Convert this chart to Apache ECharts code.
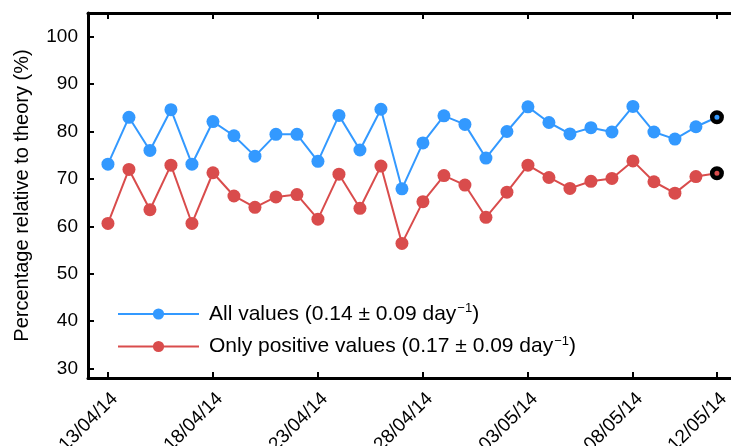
<!DOCTYPE html>
<html>
<head>
<meta charset="utf-8">
<script src="https://cdn.jsdelivr.net/npm/echarts@6/dist/echarts.min.js"></script>
<style>
  html, body { margin: 0; padding: 0; background: #fff; }
  #chart { width: 731px; height: 446px; }
</style>
</head>
<body>
<div id="chart"></div>
<script>
// dates, one per day, 13/04/14 .. 12/05/14
const dateLabels = {0: "13/04/14", 5: "18/04/14", 10: "23/04/14", 15: "28/04/14", 20: "03/05/14", 25: "08/05/14", 29: "12/05/14"};
const dateTicks = [0, 5, 10, 15, 20, 25, 29];
const yTicks = [30, 40, 50, 60, 70, 80, 90, 100];

const allValues = [73.1, 83.0, 76.0, 84.6, 73.1, 82.1, 79.1, 74.8, 79.4, 79.4,
  73.7, 83.4, 76.1, 84.7, 67.9, 77.6, 83.3, 81.5, 74.4, 80.0,
  85.2, 81.9, 79.5, 80.8, 79.9, 85.3, 79.9, 78.4, 81.0, 83.0];
const positiveValues = [60.6, 72.0, 63.5, 72.9, 60.6, 71.3, 66.4, 64.0, 66.2, 66.7,
  61.5, 71.0, 63.8, 72.7, 56.4, 65.2, 70.7, 68.7, 61.9, 67.2,
  72.9, 70.3, 68.0, 69.5, 70.1, 73.8, 69.4, 67.0, 70.5, 71.2];

const blue = "#3399ff";
const red = "#d94c4c";

function toPoints(values) {
  return values.map(function (v, i) {
    if (i === values.length - 1) {
      return { value: [i, v], symbolSize: 9.5, itemStyle: { borderColor: "#000", borderWidth: 4.5 } };
    }
    return [i, v];
  });
}

const chart = echarts.init(document.getElementById("chart"));
const font = "Liberation Sans";

const option = {
  animation: false,
  backgroundColor: "#fff",
  textStyle: { fontFamily: font, color: "#000" },
  grid: { left: 88, top: 13, right: 0, bottom: 68, containLabel: false, outerBoundsMode: "none" },
  legend: {
    orient: "vertical",
    left: 112,
    top: 297,
    itemWidth: 81,
    itemHeight: 14,
    itemGap: 10,
    formatter: function (name) {
      return name === "all"
        ? "All values (0.14 ± 0.09 day{sup|−1})"
        : "Only positive values (0.17 ± 0.09 day{sup|−1})";
    },
    textStyle: {
      fontFamily: font,
      fontSize: 21,
      color: "#000",
      padding: [0, 0, 0, 5],
      rich: {
        sup: { fontSize: 13, fontFamily: font, color: "#000", verticalAlign: "top", padding: [0, 0, 11, 1] }
      }
    }
  },
  xAxis: [
    {
      type: "value",
      min: -0.95,
      max: 29.67,
      axisLine: { show: true, onZero: false, lineStyle: { color: "#000", width: 3 } },
      axisTick: { show: true, inside: true, length: 6, customValues: dateTicks, lineStyle: { color: "#000", width: 2 } },
      axisLabel: {
        customValues: dateTicks,
        formatter: function (v) { return dateLabels[v] || ""; },
        rotate: 45,
        margin: 11,
        verticalAlign: "top",
        fontSize: 19,
        fontFamily: font,
        color: "#000"
      },
      splitLine: { show: false }
    },
    {
      type: "value",
      position: "top",
      min: -0.95,
      max: 29.67,
      axisLine: { show: true, onZero: false, lineStyle: { color: "#000", width: 3 } },
      axisTick: { show: true, inside: true, length: 6, customValues: dateTicks, lineStyle: { color: "#000", width: 2 } },
      axisLabel: { show: false },
      splitLine: { show: false }
    }
  ],
  yAxis: {
    type: "value",
    min: 28,
    max: 105,
    name: "Percentage relative to theory (%)",
    nameLocation: "middle",
    nameGap: 56,
    nameTextStyle: { fontSize: 20, fontFamily: font, color: "#000" },
    axisLine: { show: true, onZero: false, lineStyle: { color: "#000", width: 3 } },
    axisTick: { show: true, inside: true, length: 6, customValues: yTicks, lineStyle: { color: "#000", width: 2 } },
    axisLabel: { customValues: yTicks, margin: 10, fontSize: 19, fontFamily: font, color: "#000" },
    splitLine: { show: false }
  },
  series: [
    {
      name: "all",
      type: "line",
      data: toPoints(allValues),
      symbol: "circle",
      symbolSize: 13,
      showAllSymbol: true,
      lineStyle: { color: blue, width: 2 },
      itemStyle: { color: blue }
    },
    {
      name: "positive",
      type: "line",
      data: toPoints(positiveValues),
      symbol: "circle",
      symbolSize: 13,
      showAllSymbol: true,
      lineStyle: { color: red, width: 2 },
      itemStyle: { color: red }
    }
  ]
};

chart.setOption(option);
</script>
</body>
</html>
